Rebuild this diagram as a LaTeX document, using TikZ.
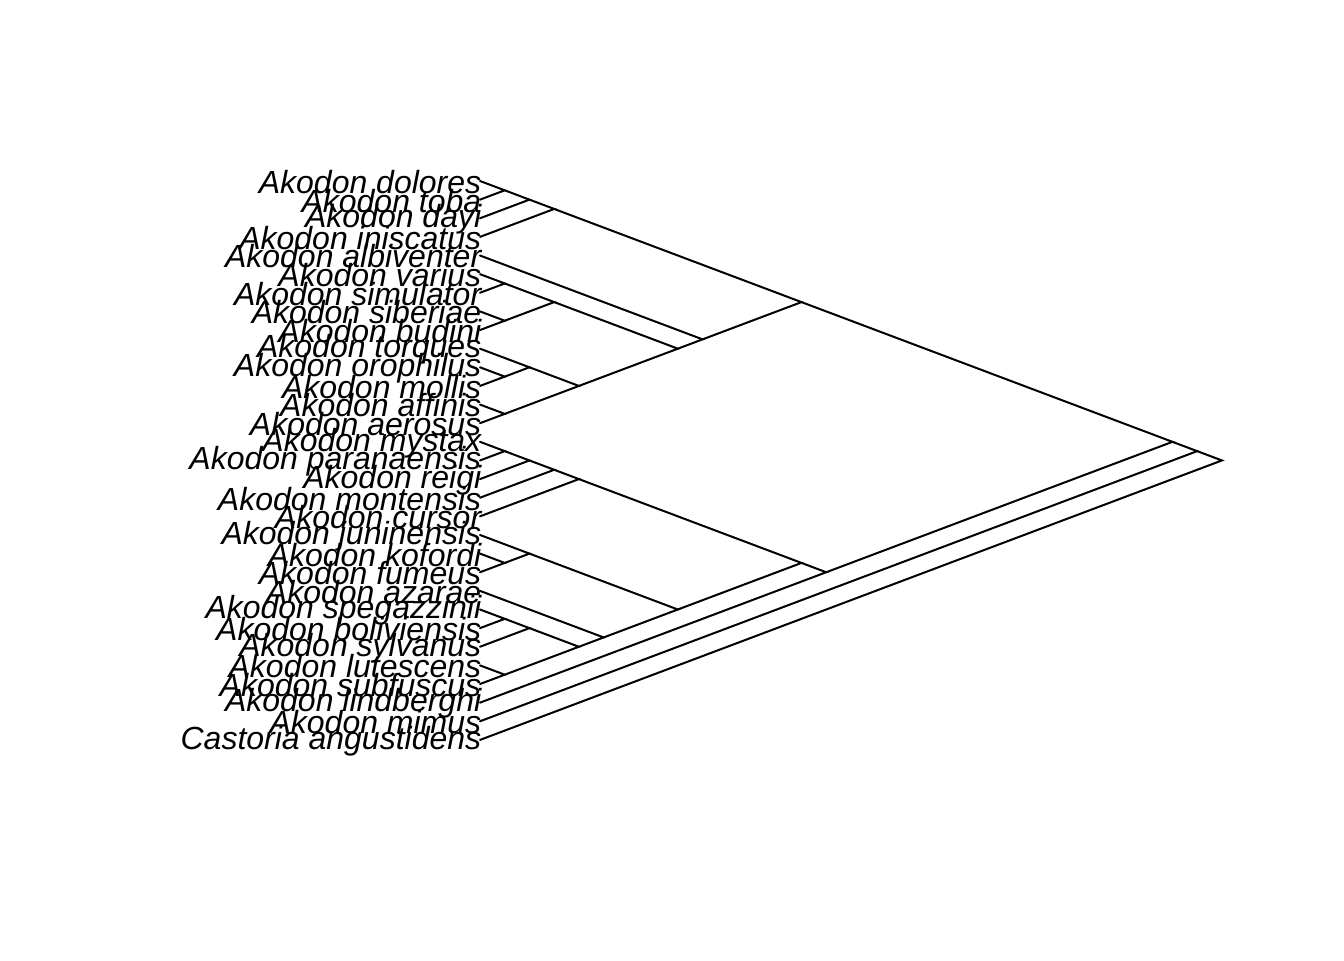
\documentclass[tikz,border=0pt]{standalone}
\usepackage{fontspec}
\setmainfont{Liberation Sans}
\newcommand{\cnode}[2]{\coordinate (c#1x#2) at ({480+(#2-#1)*24.73},{181+18.63*((#1+#2)/2-1)});}
\begin{document}
\begin{tikzpicture}[x=0.75pt,y=-0.75pt,
  br/.style={line width=1.5pt,line cap=round},
  lab/.style={anchor=east,inner sep=0pt,font=\fontsize{24}{24}\selectfont\itshape}]
\useasboundingbox (0,0) rectangle (1344,960);
\foreach \i/\t in {1/Akodon dolores,2/Akodon toba,3/Akodon dayi,4/Akodon iniscatus,5/Akodon albiventer,6/Akodon varius,7/Akodon simulator,8/Akodon siberiae,9/Akodon budini,10/Akodon torques,11/Akodon orophilus,12/Akodon mollis,13/Akodon affinis,14/Akodon aerosus,15/Akodon mystax,16/Akodon paranaensis,17/Akodon reigi,18/Akodon montensis,19/Akodon cursor,20/Akodon juninensis,21/Akodon kofordi,22/Akodon fumeus,23/Akodon azarae,24/Akodon spegazzinii,25/Akodon boliviensis,26/Akodon sylvanus,27/Akodon lutescens,28/Akodon subfuscus,29/Akodon lindberghi,30/Akodon mimus,31/Castoria angustidens}{
  \coordinate (t\i) at (480,{181+18.63*(\i-1)});
  \node[lab] (l\i) at (481.5,{182+18.63*(\i-1)}) {\t};
}
\cnode{1}{31}\cnode{1}{30}\cnode{1}{29}\cnode{1}{14}\cnode{1}{4}\cnode{1}{3}\cnode{1}{2}
\cnode{5}{14}\cnode{6}{14}\cnode{6}{9}\cnode{6}{7}\cnode{8}{9}\cnode{10}{14}\cnode{10}{12}
\cnode{11}{12}\cnode{13}{14}\cnode{15}{29}\cnode{15}{28}\cnode{15}{19}\cnode{15}{18}
\cnode{15}{17}\cnode{15}{16}\cnode{20}{28}\cnode{20}{22}\cnode{21}{22}\cnode{23}{28}
\cnode{24}{28}\cnode{24}{26}\cnode{24}{25}\cnode{27}{28}
\foreach \p/\a/\b in {c1x31/c1x30/t31, c1x30/c1x29/t30, c1x29/c1x14/c15x29,
  c1x14/c1x4/c5x14, c1x4/c1x3/t4, c1x3/c1x2/t3, c1x2/t1/t2,
  c5x14/t5/c6x14, c6x14/c6x9/c10x14, c6x9/c6x7/c8x9, c6x7/t6/t7, c8x9/t8/t9,
  c10x14/c10x12/c13x14, c10x12/t10/c11x12, c11x12/t11/t12, c13x14/t13/t14,
  c15x29/c15x28/t29, c15x28/c15x19/c20x28, c15x19/c15x18/t19, c15x18/c15x17/t18,
  c15x17/c15x16/t17, c15x16/t15/t16, c20x28/c20x22/c23x28, c20x22/t20/c21x22,
  c21x22/t21/t22, c23x28/t23/c24x28, c24x28/c24x26/c27x28, c24x26/c24x25/t26,
  c24x25/t24/t25, c27x28/t27/t28}{
  \draw[br] (\a) -- (\p) -- (\b);
}
\end{tikzpicture}
\end{document}
